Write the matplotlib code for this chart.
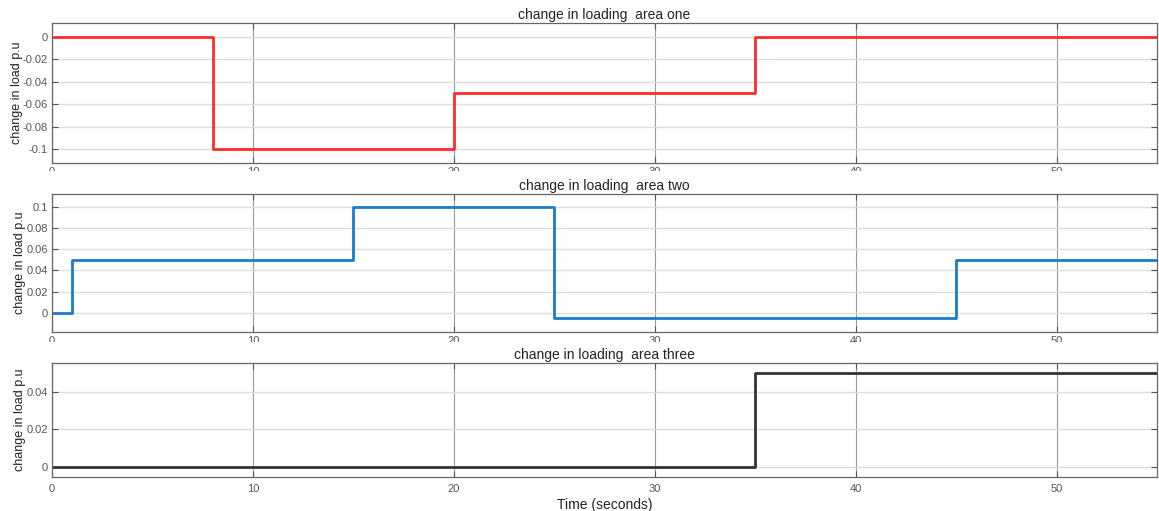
import matplotlib
matplotlib.use("Agg")
import matplotlib.pyplot as plt
from matplotlib.patches import Rectangle

plt.rcParams['font.family'] = ['Liberation Sans', 'DejaVu Sans']
plt.rcParams['axes.unicode_minus'] = False

# Step change in load per area: breakpoints (s) and level after each breakpoint (p.u.)
t_end = 55
area_one_t = [0, 8, 20, 35]
area_one_v = [0, -0.1, -0.05, 0]
area_two_t = [0, 1, 15, 25, 45]
area_two_v = [0, 0.05, 0.1, -0.005, 0.05]
area_three_t = [0, 35]
area_three_v = [0, 0.05]

titles = ["change in loading  area one", "change in loading  area two",
          "change in loading  area three"]
colors = ["#ff2b2b", "#1a7ccc", "#333333"]
ylims = [(-0.1125, 0.0125), (-0.018, 0.112), (-0.0055, 0.0555)]
yticks = [[-0.1, -0.08, -0.06, -0.04, -0.02, 0],
          [0, 0.02, 0.04, 0.06, 0.08, 0.1],
          [0, 0.02, 0.04]]
xticks = [0, 10, 20, 30, 40, 50]

series = [(area_one_t, area_one_v), (area_two_t, area_two_v),
          (area_three_t, area_three_v)]

W, H = 1159, 511
fig = plt.figure(figsize=(W / 100, H / 100), dpi=100)

boxes = [(23, 163), (194, 332), (363, 477)]
left_px, right_px = 52, 1157

def fmt(v):
    if v == 0:
        return "0"
    return ("%g" % v)

for i, ((top, bot), (ts, vs)) in enumerate(zip(boxes, series)):
    ax = fig.add_axes([left_px / W, 1 - bot / H, (right_px - left_px) / W,
                       (bot - top) / H])
    x = list(ts) + [t_end]
    y = list(vs) + [vs[-1]]
    ax.step(x, y, where="post", color=colors[i], lw=2.0)
    ax.set_xlim(0, t_end)
    ax.set_ylim(*ylims[i])
    ax.set_xticks(xticks)
    ax.set_yticks(yticks[i])
    ax.set_yticklabels([fmt(v) for v in yticks[i]])
    ax.set_title(titles[i], fontsize=10, color="#222222", pad=3)
    ax.set_ylabel("change in load p.u", fontsize=9, color="#222222", labelpad=0)
    ax.tick_params(direction="in", top=True, right=True, length=4,
                   labelsize=8, labelcolor="#555555", color="#555555",
                   width=0.8, pad=3)
    for s in ax.spines.values():
        s.set_color("#666666")
        s.set_linewidth(0.9)
    ax.xaxis.grid(True, color="#999999", lw=0.8)
    ax.yaxis.grid(True, color="#dddddd", lw=1.0)
    ax.set_axisbelow(True)
    if i == 2:
        ax.tick_params(axis="x", pad=5)
        ax.set_xlabel("Time (seconds)", fontsize=10, color="#222222", labelpad=3)

# the first two panels show only the upper edge of their time tick labels
for y0, y1 in [(171.5, 178), (341.5, 348)]:
    fig.patches.append(Rectangle((0, 1 - y1 / H), 1, (y1 - y0) / H,
                                 transform=fig.transFigure, facecolor="white",
                                 edgecolor="none", zorder=5))

fig.savefig("out.png", dpi=100)
